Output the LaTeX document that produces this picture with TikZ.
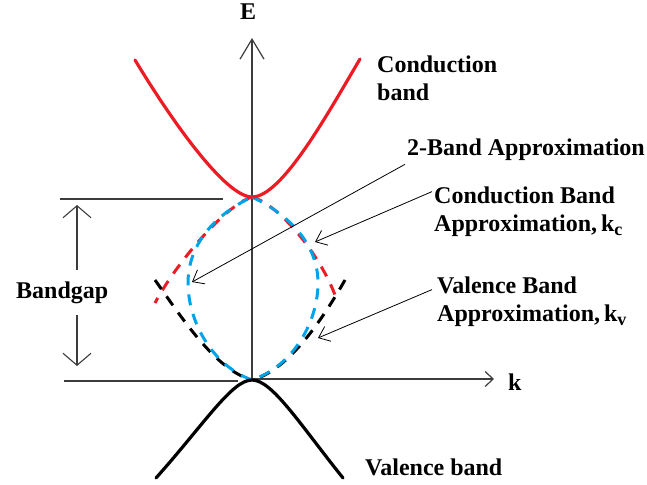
\documentclass[tikz,border=0pt]{standalone}
\usepackage{fontspec}
\setmainfont{Liberation Serif}
\usepackage{tikz}
\usetikzlibrary{positioning, arrows.meta}

\definecolor{bandred}{RGB}{237,28,36}
\definecolor{bandblue}{RGB}{0,162,232}
\definecolor{axisgray}{RGB}{60,60,60}

\newcommand{\wavesub}[1]{\raisebox{-0.35ex}{\fontsize{18}{18}\selectfont #1}}

\begin{document}
\begin{tikzpicture}[
    x=1pt, y=-1pt,
    lbl/.style={inner sep=0pt, font=\fontsize{24}{28}\selectfont\bfseries, align=left},
    axis/.style={draw=axisgray, line width=1.2pt},
    level/.style={draw=axisgray, line width=1.2pt},
    band/.style={line width=3.2pt, line cap=round},
    approx/.style={line width=3pt, dash pattern=on 11pt off 9pt},
    pointer/.style={line width=0.8pt, -{Straight Barb[length=10pt,width=16pt]}},
    gaparrow/.style={draw=axisgray, line width=1.1pt, -{Straight Barb[length=12pt,width=28pt]}},
]
\useasboundingbox (0,0) rectangle (647,484);

% points on the curves
\coordinate (origin) at (252,379);
\coordinate (etip) at (252,38);
\coordinate (ktip) at (494,379);
\coordinate (cmin) at (252,197);
\coordinate (vmax) at (252,380);

% labels
\node[lbl, anchor=center] (elbl) at (248,12) {E};
\node[lbl, anchor=base west] (klbl) at (508,390) {k};
\node[lbl, anchor=north west] (cbandlbl) at (377,55.6) {Conduction\\band};
\node[lbl, anchor=base west] (twoband) at (407,155) {2-Band Approximation};
\node[lbl, anchor=north west] (cbapprox) at (434,186.6) {Conduction Band\\Approximation,\,k\wavesub{c}};
\node[lbl, anchor=north west] (vbapprox) at (437,276.6) {Valence Band\\Approximation,\,k\wavesub{v}};
\node[lbl, anchor=base west] (vbandlbl) at (365,475) {Valence band};
\node[lbl, anchor=base west] (gaplbl) at (16,298) {Bandgap};

% axes and levels
\draw[axis, -{Straight Barb[length=20pt,width=24pt]}] (origin) -- (etip);
\draw[axis, -{Straight Barb[length=8pt,width=15pt]}] (origin) -- (ktip);
\draw[level] (60,199) -- (223,199);
\draw[level] (64,381) -- (238,381);

% bandgap arrows
\coordinate (gapA) at (77,270);
\coordinate (gapB) at (77,315);
\draw[gaparrow] (gapA) -- (77,205);
\draw[gaparrow] (gapB) -- (77,366);

% approximations
\draw[approx, bandred] (cmin) .. controls (225,205) and (175,265) .. (155,303);
\draw[approx, bandred] (cmin) .. controls (280,205) and (320,255) .. (335,295);
\draw[approx, black] (155,280) .. controls (180,315) and (215,370) .. (vmax);
\draw[approx, black] (345,280) .. controls (325,315) and (290,370) .. (vmax);
\draw[approx, bandblue] (cmin) .. controls (290,215) and (318,245) .. (318,283)
    .. controls (318,320) and (295,365) .. (vmax)
    .. controls (211,365) and (188,320) .. (188,283)
    .. controls (188,245) and (214,215) .. (cmin);

% bands
\draw[band, bandred] (135,60) .. controls (170,118) and (225,197) .. (cmin)
    .. controls (282,197) and (328,113) .. (360,59);
\draw[band, black] (156,478) .. controls (205,423) and (232,380) .. (vmax)
    .. controls (272,380) and (299,423) .. (343,478);

% pointers
\draw[pointer] ([shift={(-2pt,-4pt)}]twoband.south west) -- (192,282);
\draw[pointer] ([shift={(-2pt,-5pt)}]cbapprox.north west) -- (315,242);
\draw[pointer] ([shift={(-5pt,-13pt)}]vbapprox.north west) -- (318,338);
\end{tikzpicture}
\end{document}
